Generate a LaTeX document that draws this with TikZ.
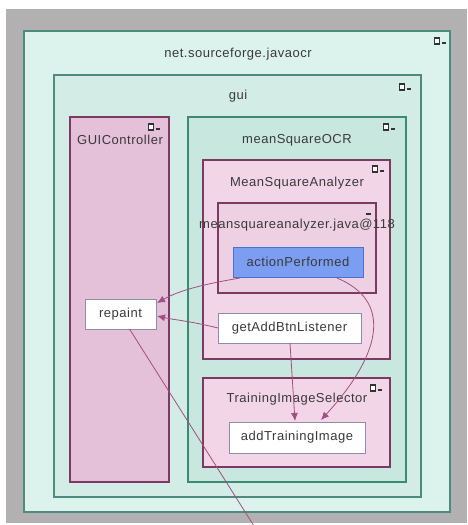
\documentclass[tikz,border=0pt]{standalone}
\usepackage{fontspec}
\setmainfont[LetterSpace=4]{Liberation Sans}
\usetikzlibrary{arrows.meta,calc}
\definecolor{bggray}{HTML}{B2B0B0}
\definecolor{outerfill}{HTML}{DCF2ED}
\definecolor{outerdraw}{HTML}{4E8A7E}
\definecolor{guifill}{HTML}{D3ECE6}
\definecolor{tealdraw}{HTML}{3A8A74}
\definecolor{ocrfill}{HTML}{C8E7DE}
\definecolor{ctrlfill}{HTML}{E4C0D9}
\definecolor{pinkdraw}{HTML}{7A3A62}
\definecolor{msafill}{HTML}{F2D6E7}
\definecolor{javafill}{HTML}{EED0E3}
\definecolor{apfill}{HTML}{7B9EF2}
\definecolor{apdraw}{HTML}{4D6FD0}
\definecolor{methdraw}{HTML}{8A8FB0}
\definecolor{edgecol}{HTML}{A05080}
\definecolor{txt}{HTML}{3A3A3A}
\tikzset{
  box/.style={draw, line width=1.6pt, anchor=north west, inner sep=0pt, outer sep=0pt},
  meth/.style={draw=methdraw, line width=1pt, fill=white, anchor=north west, inner sep=0pt, outer sep=0pt},
  lbl/.style={text=txt, font=\fontsize{13}{15}\selectfont, inner sep=0pt},
  edge/.style={draw=edgecol, line width=0.8pt, -{Latex[length=8pt,width=7pt]}},
  iconsq/.style={draw=black!80, fill=white, line width=1.3pt, minimum width=5pt, minimum height=6pt, inner sep=0pt},
  icondash/.style={draw=black!80, line width=1.6pt}
}
\newcommand{\wicon}[2]{%
  \node[iconsq] at (#1,#2) {};
  \draw[icondash] (#1+5,#2+2) -- (#1+9,#2+2);
}
\begin{document}
\begin{tikzpicture}[x=1pt,y=-1pt]
\useasboundingbox (0,0) rectangle (467,525);
\fill[bggray] (6,9) rectangle (467,523);
% containers
\node[box, draw=outerdraw, fill=outerfill, minimum width=426pt, minimum height=481pt] (pkg) at (24,31) {};
\node[box, draw=outerdraw, fill=guifill, minimum width=367pt, minimum height=422pt] (gui) at (54,75) {};
\node[box, draw=pinkdraw, fill=ctrlfill, minimum width=99pt, minimum height=365pt] (ctrl) at (70,117) {};
\node[box, draw=tealdraw, fill=ocrfill, minimum width=218pt, minimum height=365pt] (ocr) at (188,117) {};
\node[box, draw=pinkdraw, fill=msafill, minimum width=187pt, minimum height=199pt] (msa) at (203,160) {};
\node[box, draw=pinkdraw, fill=javafill, minimum width=158pt, minimum height=90pt] (java) at (218,203) {};
\node[box, draw=pinkdraw, fill=msafill, minimum width=187pt, minimum height=89pt] (tis) at (203,378) {};
% labels
\node[lbl] (lpkg) at (238,54) {net.sourceforge.javaocr};
\node[lbl] (lgui) at (238,96) {gui};
\node[lbl] (lctrl) at (120,140) {GUIController};
\node[lbl] (locr) at (297,140) {meanSquareOCR};
\node[lbl] (lmsa) at (297,183) {MeanSquareAnalyzer};
\node[lbl] (ljava) at (297,225) {meansquareanalyzer.java@118};
\node[lbl] (ltis) at (297,399) {TrainingImageSelector};
% icons
\wicon{437}{41}
\wicon{402}{87}
\wicon{151}{127}
\wicon{386}{127}
\wicon{375}{169}
\draw[icondash] (366,214) -- (371,214);
\wicon{373}{388}
% methods
\node[box, draw=apdraw, line width=1pt, fill=apfill, minimum width=130pt, minimum height=30pt] (ap) at (233,247) {};
\node[lbl] at (ap.center) {actionPerformed};
\node[meth, minimum width=143pt, minimum height=30pt] (gab) at (218,313) {};
\node[lbl] at (gab.center) {getAddBtnListener};
\node[meth, minimum width=71pt, minimum height=30pt] (rep) at (85,299) {};
\node[lbl] at (rep.center) {repaint};
\node[meth, minimum width=136pt, minimum height=31pt] (ati) at (229,422) {};
\node[lbl] at (ati.center) {addTrainingImage};
% edges
\coordinate (offpage) at (254,526);
\draw[edge] ($(ap.south west)+(7,1)$) .. controls (205,284) and (180,290) .. ($(rep.north east)+(1,4)$);
\draw[edge] (gab.west) .. controls (190,321) and (175,320) .. ($(rep.east)+(1,2)$);
\draw[edge] ($(gab.south)+(0.5,0)$) -- ($(ati.north)+(-2,-1)$);
\draw[edge] ($(ap.south east)+(-26,1)$) .. controls (390,300) and (385,350) .. ($(ati.north)+(24,-2)$);
\draw[draw=edgecol, line width=0.8pt] ($(rep.south)+(9,0)$) -- (offpage);
\end{tikzpicture}
\end{document}
